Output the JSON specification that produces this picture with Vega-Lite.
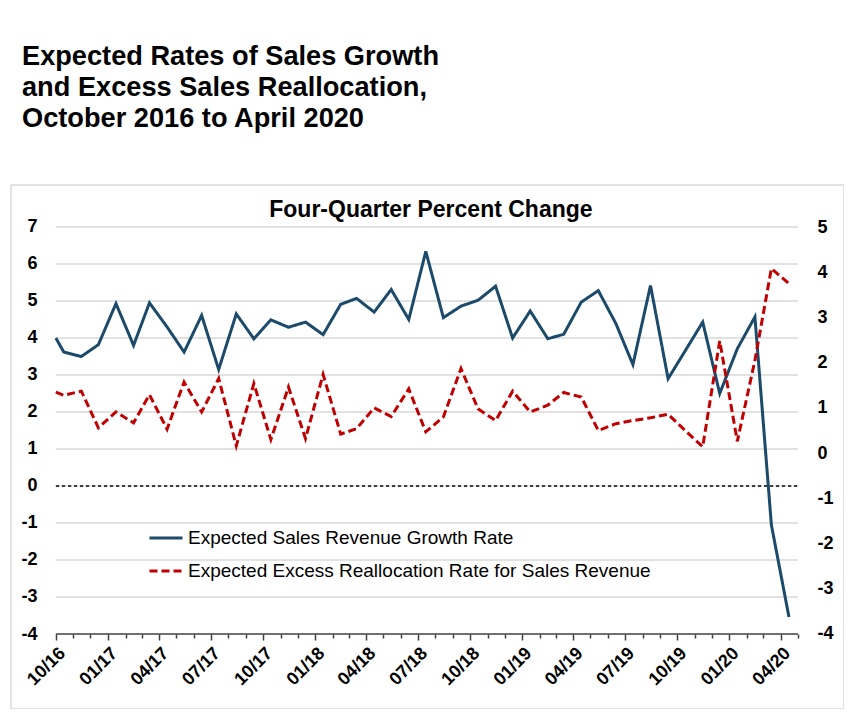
{
  "$schema": "https://vega.github.io/schema/vega-lite/v6.json",
  "width": 833,
  "height": 524,
  "autosize": {"type": "pad"},
  "padding": {"left": 11, "top": 42, "right": 0, "bottom": 0},
  "background": "white",
  "title": {
    "text": ["Expected Rates of Sales Growth", "and Excess Sales Reallocation,", "October 2016 to April 2020"],
    "anchor": "start",
    "frame": "group",
    "dx": 11,
    "font": "Liberation Sans",
    "fontSize": 27.2,
    "fontWeight": "bold",
    "lineHeight": 31,
    "color": "black",
    "offset": 52
  },
  "config": {
    "view": {"stroke": "#d9d9d9", "strokeWidth": 1.5},
    "font": "Liberation Sans"
  },
  "datasets": {
    "grid": [{"v": 7}, {"v": 6}, {"v": 5}, {"v": 4}, {"v": 3}, {"v": 2}, {"v": 1}, {"v": -1}, {"v": -2}, {"v": -3}],
    "series": [
      {"date": "2016-10-01", "series": "Expected Sales Revenue Growth Rate", "value": 4.00},
      {"date": "2016-10-15", "series": "Expected Sales Revenue Growth Rate", "value": 3.62},
      {"date": "2016-11-15", "series": "Expected Sales Revenue Growth Rate", "value": 3.50},
      {"date": "2016-12-15", "series": "Expected Sales Revenue Growth Rate", "value": 3.82},
      {"date": "2017-01-15", "series": "Expected Sales Revenue Growth Rate", "value": 4.93},
      {"date": "2017-02-15", "series": "Expected Sales Revenue Growth Rate", "value": 3.80},
      {"date": "2017-03-15", "series": "Expected Sales Revenue Growth Rate", "value": 4.95},
      {"date": "2017-04-15", "series": "Expected Sales Revenue Growth Rate", "value": 4.30},
      {"date": "2017-05-15", "series": "Expected Sales Revenue Growth Rate", "value": 3.62},
      {"date": "2017-06-15", "series": "Expected Sales Revenue Growth Rate", "value": 4.61},
      {"date": "2017-07-15", "series": "Expected Sales Revenue Growth Rate", "value": 3.15},
      {"date": "2017-08-15", "series": "Expected Sales Revenue Growth Rate", "value": 4.65},
      {"date": "2017-09-15", "series": "Expected Sales Revenue Growth Rate", "value": 3.98},
      {"date": "2017-10-15", "series": "Expected Sales Revenue Growth Rate", "value": 4.49},
      {"date": "2017-11-15", "series": "Expected Sales Revenue Growth Rate", "value": 4.29},
      {"date": "2017-12-15", "series": "Expected Sales Revenue Growth Rate", "value": 4.43},
      {"date": "2018-01-15", "series": "Expected Sales Revenue Growth Rate", "value": 4.09},
      {"date": "2018-02-15", "series": "Expected Sales Revenue Growth Rate", "value": 4.91},
      {"date": "2018-03-15", "series": "Expected Sales Revenue Growth Rate", "value": 5.07},
      {"date": "2018-04-15", "series": "Expected Sales Revenue Growth Rate", "value": 4.70},
      {"date": "2018-05-15", "series": "Expected Sales Revenue Growth Rate", "value": 5.31},
      {"date": "2018-06-15", "series": "Expected Sales Revenue Growth Rate", "value": 4.50},
      {"date": "2018-07-15", "series": "Expected Sales Revenue Growth Rate", "value": 6.34},
      {"date": "2018-08-15", "series": "Expected Sales Revenue Growth Rate", "value": 4.55},
      {"date": "2018-09-15", "series": "Expected Sales Revenue Growth Rate", "value": 4.86},
      {"date": "2018-10-15", "series": "Expected Sales Revenue Growth Rate", "value": 5.02},
      {"date": "2018-11-15", "series": "Expected Sales Revenue Growth Rate", "value": 5.40},
      {"date": "2018-12-15", "series": "Expected Sales Revenue Growth Rate", "value": 4.00},
      {"date": "2019-01-15", "series": "Expected Sales Revenue Growth Rate", "value": 4.73},
      {"date": "2019-02-15", "series": "Expected Sales Revenue Growth Rate", "value": 3.98},
      {"date": "2019-03-15", "series": "Expected Sales Revenue Growth Rate", "value": 4.10},
      {"date": "2019-04-15", "series": "Expected Sales Revenue Growth Rate", "value": 4.97},
      {"date": "2019-05-15", "series": "Expected Sales Revenue Growth Rate", "value": 5.28},
      {"date": "2019-06-15", "series": "Expected Sales Revenue Growth Rate", "value": 4.39},
      {"date": "2019-07-15", "series": "Expected Sales Revenue Growth Rate", "value": 3.28},
      {"date": "2019-08-15", "series": "Expected Sales Revenue Growth Rate", "value": 5.42},
      {"date": "2019-09-15", "series": "Expected Sales Revenue Growth Rate", "value": 2.90},
      {"date": "2019-10-15", "series": "Expected Sales Revenue Growth Rate", "value": 3.65},
      {"date": "2019-11-15", "series": "Expected Sales Revenue Growth Rate", "value": 4.43},
      {"date": "2019-12-15", "series": "Expected Sales Revenue Growth Rate", "value": 2.50},
      {"date": "2020-01-15", "series": "Expected Sales Revenue Growth Rate", "value": 3.71},
      {"date": "2020-02-15", "series": "Expected Sales Revenue Growth Rate", "value": 4.57},
      {"date": "2020-03-15", "series": "Expected Sales Revenue Growth Rate", "value": -1.05},
      {"date": "2020-04-15", "series": "Expected Sales Revenue Growth Rate", "value": -3.54},
      {"date": "2016-10-01", "series": "Expected Excess Reallocation Rate for Sales Revenue", "value": 1.35},
      {"date": "2016-10-15", "series": "Expected Excess Reallocation Rate for Sales Revenue", "value": 1.28},
      {"date": "2016-11-15", "series": "Expected Excess Reallocation Rate for Sales Revenue", "value": 1.37},
      {"date": "2016-12-15", "series": "Expected Excess Reallocation Rate for Sales Revenue", "value": 0.56},
      {"date": "2017-01-15", "series": "Expected Excess Reallocation Rate for Sales Revenue", "value": 0.91},
      {"date": "2017-02-15", "series": "Expected Excess Reallocation Rate for Sales Revenue", "value": 0.67},
      {"date": "2017-03-15", "series": "Expected Excess Reallocation Rate for Sales Revenue", "value": 1.29},
      {"date": "2017-04-15", "series": "Expected Excess Reallocation Rate for Sales Revenue", "value": 0.53},
      {"date": "2017-05-15", "series": "Expected Excess Reallocation Rate for Sales Revenue", "value": 1.57},
      {"date": "2017-06-15", "series": "Expected Excess Reallocation Rate for Sales Revenue", "value": 0.91},
      {"date": "2017-07-15", "series": "Expected Excess Reallocation Rate for Sales Revenue", "value": 1.65},
      {"date": "2017-08-15", "series": "Expected Excess Reallocation Rate for Sales Revenue", "value": 0.16},
      {"date": "2017-09-15", "series": "Expected Excess Reallocation Rate for Sales Revenue", "value": 1.54},
      {"date": "2017-10-15", "series": "Expected Excess Reallocation Rate for Sales Revenue", "value": 0.30},
      {"date": "2017-11-15", "series": "Expected Excess Reallocation Rate for Sales Revenue", "value": 1.46},
      {"date": "2017-12-15", "series": "Expected Excess Reallocation Rate for Sales Revenue", "value": 0.32},
      {"date": "2018-01-15", "series": "Expected Excess Reallocation Rate for Sales Revenue", "value": 1.74},
      {"date": "2018-02-15", "series": "Expected Excess Reallocation Rate for Sales Revenue", "value": 0.42},
      {"date": "2018-03-15", "series": "Expected Excess Reallocation Rate for Sales Revenue", "value": 0.54},
      {"date": "2018-04-15", "series": "Expected Excess Reallocation Rate for Sales Revenue", "value": 1.00},
      {"date": "2018-05-15", "series": "Expected Excess Reallocation Rate for Sales Revenue", "value": 0.81},
      {"date": "2018-06-15", "series": "Expected Excess Reallocation Rate for Sales Revenue", "value": 1.42},
      {"date": "2018-07-15", "series": "Expected Excess Reallocation Rate for Sales Revenue", "value": 0.47},
      {"date": "2018-08-15", "series": "Expected Excess Reallocation Rate for Sales Revenue", "value": 0.80},
      {"date": "2018-09-15", "series": "Expected Excess Reallocation Rate for Sales Revenue", "value": 1.87},
      {"date": "2018-10-15", "series": "Expected Excess Reallocation Rate for Sales Revenue", "value": 0.98},
      {"date": "2018-11-15", "series": "Expected Excess Reallocation Rate for Sales Revenue", "value": 0.72},
      {"date": "2018-12-15", "series": "Expected Excess Reallocation Rate for Sales Revenue", "value": 1.37},
      {"date": "2019-01-15", "series": "Expected Excess Reallocation Rate for Sales Revenue", "value": 0.91},
      {"date": "2019-02-15", "series": "Expected Excess Reallocation Rate for Sales Revenue", "value": 1.06},
      {"date": "2019-03-15", "series": "Expected Excess Reallocation Rate for Sales Revenue", "value": 1.34},
      {"date": "2019-04-15", "series": "Expected Excess Reallocation Rate for Sales Revenue", "value": 1.24},
      {"date": "2019-05-15", "series": "Expected Excess Reallocation Rate for Sales Revenue", "value": 0.50},
      {"date": "2019-06-15", "series": "Expected Excess Reallocation Rate for Sales Revenue", "value": 0.65},
      {"date": "2019-07-15", "series": "Expected Excess Reallocation Rate for Sales Revenue", "value": 0.72},
      {"date": "2019-08-15", "series": "Expected Excess Reallocation Rate for Sales Revenue", "value": 0.78},
      {"date": "2019-09-15", "series": "Expected Excess Reallocation Rate for Sales Revenue", "value": 0.86},
      {"date": "2019-10-15", "series": "Expected Excess Reallocation Rate for Sales Revenue", "value": 0.50},
      {"date": "2019-11-15", "series": "Expected Excess Reallocation Rate for Sales Revenue", "value": 0.14},
      {"date": "2019-12-15", "series": "Expected Excess Reallocation Rate for Sales Revenue", "value": 2.48},
      {"date": "2020-01-15", "series": "Expected Excess Reallocation Rate for Sales Revenue", "value": 0.26},
      {"date": "2020-02-15", "series": "Expected Excess Reallocation Rate for Sales Revenue", "value": 2.05},
      {"date": "2020-03-15", "series": "Expected Excess Reallocation Rate for Sales Revenue", "value": 4.08},
      {"date": "2020-04-15", "series": "Expected Excess Reallocation Rate for Sales Revenue", "value": 3.75}
    ]
  },
  "layer": [
    {
      "layer": [
        {
          "data": {"name": "grid"},
          "mark": {"type": "rule", "color": "#d9d9d9", "strokeWidth": 1.5},
          "encoding": {
            "x": {"datum": {"year": 2016, "month": 10, "date": 1, "utc": true}, "type": "temporal", "scale": {"type": "utc", "domain": [{"year": 2016, "month": 7, "date": 14, "utc": true}, {"year": 2020, "month": 7, "date": 21, "utc": true}]}},
            "x2": {"datum": {"year": 2020, "month": 5, "date": 1, "utc": true}},
            "y": {"field": "v", "type": "quantitative", "scale": {"domain": [-6.027, 8.135], "nice": false, "zero": false}}
          }
        },
        {
          "data": {"values": [{}]},
          "mark": {"type": "rule", "color": "#000000", "strokeWidth": 1.4, "strokeDash": [3.5, 2.5]},
          "encoding": {
            "x": {"datum": {"year": 2016, "month": 10, "date": 1, "utc": true}, "type": "temporal", "scale": {"type": "utc", "domain": [{"year": 2016, "month": 7, "date": 14, "utc": true}, {"year": 2020, "month": 7, "date": 21, "utc": true}]}},
            "x2": {"datum": {"year": 2020, "month": 5, "date": 1, "utc": true}},
            "y": {"datum": 0, "type": "quantitative"}
          }
        },
        {
          "data": {"values": [{}]},
          "mark": {"type": "rule", "color": "#404040", "strokeWidth": 1.5},
          "encoding": {
            "x": {"datum": {"year": 2016, "month": 10, "date": 1, "utc": true}, "type": "temporal", "scale": {"type": "utc", "domain": [{"year": 2016, "month": 7, "date": 14, "utc": true}, {"year": 2020, "month": 7, "date": 21, "utc": true}]}},
            "x2": {"datum": {"year": 2020, "month": 5, "date": 1, "utc": true}},
            "y": {"datum": -4, "type": "quantitative"}
          }
        },
        {
          "data": {"values": [{}]},
          "mark": {"type": "text", "text": "Four-Quarter Percent Change", "font": "Liberation Sans", "fontSize": 23, "fontWeight": "bold", "color": "black", "align": "center", "baseline": "alphabetic"},
          "encoding": {
            "x": {"datum": {"year": 2018, "month": 7, "date": 24, "utc": true}, "type": "temporal", "scale": {"type": "utc", "domain": [{"year": 2016, "month": 7, "date": 14, "utc": true}, {"year": 2020, "month": 7, "date": 21, "utc": true}]}},
            "y": {"datum": 7.27, "type": "quantitative"}
          }
        },
        {
          "data": {"name": "series"},
          "transform": [{"filter": "datum.series === 'Expected Sales Revenue Growth Rate'"}],
          "mark": {"type": "line", "strokeWidth": 3},
          "encoding": {
            "x": {
              "field": "date",
              "type": "temporal",
              "scale": {"type": "utc", "domain": [{"year": 2016, "month": 7, "date": 14, "utc": true}, {"year": 2020, "month": 7, "date": 21, "utc": true}]},
              "axis": {
                "title": null,
                "orient": "bottom",
                "offset": -75,
                "domain": false,
                "grid": false,
                "tickCount": 200,
                "values": [
                  {"year": 2016, "month": 10, "date": 1, "utc": true}, {"year": 2016, "month": 11, "date": 1, "utc": true}, {"year": 2016, "month": 12, "date": 1, "utc": true},
                  {"year": 2017, "month": 1, "date": 1, "utc": true}, {"year": 2017, "month": 2, "date": 1, "utc": true}, {"year": 2017, "month": 3, "date": 1, "utc": true},
                  {"year": 2017, "month": 4, "date": 1, "utc": true}, {"year": 2017, "month": 5, "date": 1, "utc": true}, {"year": 2017, "month": 6, "date": 1, "utc": true},
                  {"year": 2017, "month": 7, "date": 1, "utc": true}, {"year": 2017, "month": 8, "date": 1, "utc": true}, {"year": 2017, "month": 9, "date": 1, "utc": true},
                  {"year": 2017, "month": 10, "date": 1, "utc": true}, {"year": 2017, "month": 11, "date": 1, "utc": true}, {"year": 2017, "month": 12, "date": 1, "utc": true},
                  {"year": 2018, "month": 1, "date": 1, "utc": true}, {"year": 2018, "month": 2, "date": 1, "utc": true}, {"year": 2018, "month": 3, "date": 1, "utc": true},
                  {"year": 2018, "month": 4, "date": 1, "utc": true}, {"year": 2018, "month": 5, "date": 1, "utc": true}, {"year": 2018, "month": 6, "date": 1, "utc": true},
                  {"year": 2018, "month": 7, "date": 1, "utc": true}, {"year": 2018, "month": 8, "date": 1, "utc": true}, {"year": 2018, "month": 9, "date": 1, "utc": true},
                  {"year": 2018, "month": 10, "date": 1, "utc": true}, {"year": 2018, "month": 11, "date": 1, "utc": true}, {"year": 2018, "month": 12, "date": 1, "utc": true},
                  {"year": 2019, "month": 1, "date": 1, "utc": true}, {"year": 2019, "month": 2, "date": 1, "utc": true}, {"year": 2019, "month": 3, "date": 1, "utc": true},
                  {"year": 2019, "month": 4, "date": 1, "utc": true}, {"year": 2019, "month": 5, "date": 1, "utc": true}, {"year": 2019, "month": 6, "date": 1, "utc": true},
                  {"year": 2019, "month": 7, "date": 1, "utc": true}, {"year": 2019, "month": 8, "date": 1, "utc": true}, {"year": 2019, "month": 9, "date": 1, "utc": true},
                  {"year": 2019, "month": 10, "date": 1, "utc": true}, {"year": 2019, "month": 11, "date": 1, "utc": true}, {"year": 2019, "month": 12, "date": 1, "utc": true},
                  {"year": 2020, "month": 1, "date": 1, "utc": true}, {"year": 2020, "month": 2, "date": 1, "utc": true}, {"year": 2020, "month": 3, "date": 1, "utc": true},
                  {"year": 2020, "month": 4, "date": 1, "utc": true}, {"year": 2020, "month": 5, "date": 1, "utc": true}
                ],
                "labelExpr": "utcmonth(datum.value) % 3 === 0 ? utcFormat(datum.value, '%m/%y') : ''",
                "tickColor": "#404040",
                "tickWidth": 1.5,
                "tickSize": {"condition": {"test": "utcmonth(datum.value) % 3 === 0", "value": 6}, "value": 4},
                "labelAngle": -45,
                "labelFont": "Liberation Sans",
                "labelFontSize": 18,
                "labelFontWeight": "bold",
                "labelColor": "black",
                "labelPadding": 4,
                "labelOverlap": false,
                "labelFlush": false,
                "labelBound": false
              }
            },
            "y": {
              "field": "value",
              "type": "quantitative",
              "scale": {"domain": [-6.027, 8.135], "nice": false, "zero": false},
              "axis": {
                "title": null,
                "orient": "left",
                "offset": -45,
                "domain": false,
                "ticks": false,
                "tickSize": 0,
                "grid": false,
                "values": [-4, -3, -2, -1, 0, 1, 2, 3, 4, 5, 6, 7],
                "labelExpr": "datum.value < 0 ? '-' + abs(datum.value) : '' + datum.value",
                "labelFont": "Liberation Sans",
                "labelFontSize": 18,
                "labelFontWeight": "bold",
                "labelColor": "black",
                "labelPadding": 19
              }
            },
            "color": {
              "field": "series",
              "type": "nominal",
              "scale": {"domain": ["Expected Sales Revenue Growth Rate", "Expected Excess Reallocation Rate for Sales Revenue"], "range": ["#1b4a6b", "#c00000"]},
              "legend": {"title": null, "orient": "none", "legendX": 137, "legendY": 335, "padding": 0, "symbolType": "stroke", "symbolSize": 1089, "symbolStrokeWidth": 3, "labelFont": "Liberation Sans", "labelFontSize": 19, "labelColor": "black", "labelLimit": 700, "labelOffset": 4, "rowPadding": 5}
            },
            "strokeDash": {
              "field": "series",
              "type": "nominal",
              "scale": {"domain": ["Expected Sales Revenue Growth Rate", "Expected Excess Reallocation Rate for Sales Revenue"], "range": [[1, 0], [8, 4]]},
              "legend": {"title": null, "orient": "none", "legendX": 137, "legendY": 335, "padding": 0, "symbolType": "stroke", "symbolSize": 1089, "symbolStrokeWidth": 3, "labelFont": "Liberation Sans", "labelFontSize": 19, "labelColor": "black", "labelLimit": 700, "labelOffset": 4, "rowPadding": 5}
            }
          }
        }
      ]
    },
    {
      "data": {"name": "series"},
      "transform": [{"filter": "datum.series === 'Expected Excess Reallocation Rate for Sales Revenue'"}],
      "mark": {"type": "line", "strokeWidth": 3},
      "encoding": {
        "x": {"field": "date", "type": "temporal", "scale": {"type": "utc", "domain": [{"year": 2016, "month": 7, "date": 14, "utc": true}, {"year": 2020, "month": 7, "date": 21, "utc": true}]}},
        "y": {
          "field": "value",
          "type": "quantitative",
          "scale": {"domain": [-5.659, 5.929], "nice": false, "zero": false},
          "axis": {
            "title": null,
            "orient": "right",
            "offset": -46,
            "domain": false,
            "ticks": false,
            "tickSize": 0,
            "grid": false,
            "values": [-4, -3, -2, -1, 0, 1, 2, 3, 4, 5],
            "labelExpr": "datum.value < 0 ? '-' + abs(datum.value) : '' + datum.value",
            "labelFont": "Liberation Sans",
            "labelFontSize": 18,
            "labelFontWeight": "bold",
            "labelColor": "black",
            "labelPadding": 19
          }
        },
        "color": {"field": "series", "type": "nominal"},
        "strokeDash": {"field": "series", "type": "nominal"}
      }
    }
  ],
  "resolve": {"scale": {"y": "independent"}}
}
